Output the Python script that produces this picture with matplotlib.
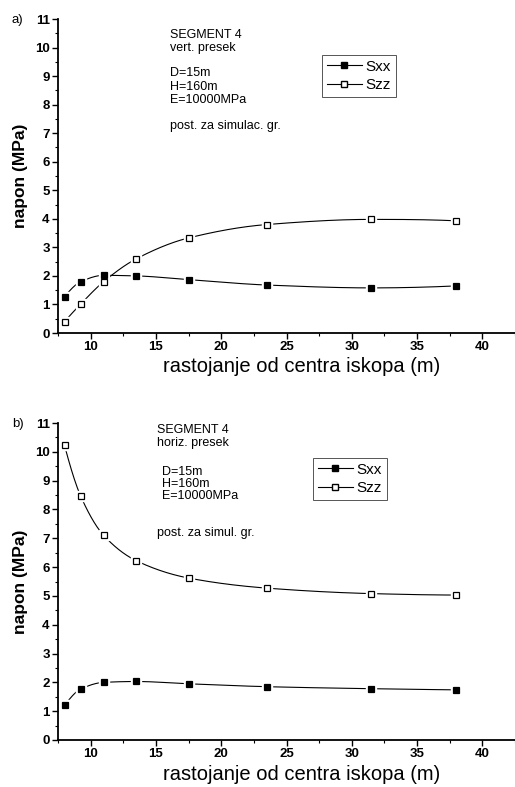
import numpy as np
import matplotlib
matplotlib.use("Agg")
import matplotlib.pyplot as plt
from matplotlib.ticker import MultipleLocator
from matplotlib.lines import Line2D

plt.rcParams['font.family'] = ['Liberation Sans', 'DejaVu Sans']

# ---- data ----
x_dist = [8.0, 9.25, 11.0, 13.5, 17.5, 23.5, 31.5, 38.0]

a_sxx = [1.27, 1.80, 2.02, 2.00, 1.87, 1.68, 1.58, 1.65]
a_szz = [0.40, 1.02, 1.80, 2.60, 3.33, 3.80, 3.98, 3.93]

b_sxx = [1.20, 1.77, 2.00, 2.03, 1.95, 1.85, 1.78, 1.74]
b_szz = [10.22, 8.45, 7.10, 6.22, 5.62, 5.27, 5.08, 5.03]

series_names = ["Sxx", "Szz"]
panel_labels = ["a)", "b)"]
a_notes = ["SEGMENT 4", "vert. presek", "D=15m", "H=160m", "E=10000MPa", "post. za simulac. gr."]
b_notes = ["SEGMENT 4", "horiz. presek", "D=15m", "H=160m", "E=10000MPa", "post. za simul. gr."]
xlabel = "rastojanje od centra iskopa (m)"
ylabel = "napon (MPa)"


def pchip(x, y, xs):
    """Monotone cubic curve through the data points (drawing only)."""
    x = np.asarray(x, float); y = np.asarray(y, float)
    h = np.diff(x); d = np.diff(y) / h
    n = len(x); m = np.zeros(n)
    for k in range(1, n - 1):
        if d[k - 1] * d[k] > 0:
            w1 = 2 * h[k] + h[k - 1]; w2 = h[k] + 2 * h[k - 1]
            m[k] = (w1 + w2) / (w1 / d[k - 1] + w2 / d[k])
    m[0] = ((2 * h[0] + h[1]) * d[0] - h[0] * d[1]) / (h[0] + h[1])
    if np.sign(m[0]) != np.sign(d[0]): m[0] = 0
    m[-1] = ((2 * h[-1] + h[-2]) * d[-1] - h[-1] * d[-2]) / (h[-1] + h[-2])
    if np.sign(m[-1]) != np.sign(d[-1]): m[-1] = 0
    idx = np.clip(np.searchsorted(x, xs) - 1, 0, n - 2)
    t = (xs - x[idx]) / h[idx]
    h00 = 2 * t**3 - 3 * t**2 + 1; h10 = t**3 - 2 * t**2 + t
    h01 = -2 * t**3 + 3 * t**2; h11 = t**3 - t**2
    return h00 * y[idx] + h10 * h[idx] * m[idx] + h01 * y[idx + 1] + h11 * h[idx] * m[idx + 1]


W, H = 515, 787
fig = plt.figure(figsize=(W / 100, H / 100), dpi=100)

def px_axes(left, top, right, bottom):
    return fig.add_axes([left / W, 1 - bottom / H, (right - left) / W, (bottom - top) / H])

axes_specs = [
    (px_axes(58, 19, 515, 333), (19, 333), a_sxx, a_szz, a_notes, (170, 35), (322, 55),
     [0, 13, 38, 52, 65, 91], [0, 0, 0, 0, 0, 0]),
    (px_axes(58, 423, 515, 740), (423, 740), b_sxx, b_szz, b_notes, (157, 430), (313, 458),
     [0, 13, 42, 54, 66, 103], [0, 0, 5, 5, 5, 0]),
]

for i, (ax, (atop, abot), sxx, szz, notes, (tx, ty), (lx, ly), ys, xo) in enumerate(axes_specs):
    xs = np.linspace(x_dist[0], x_dist[-1], 400)
    for vals, face in ((sxx, 'black'), (szz, 'white')):
        ax.plot(xs, pchip(x_dist, vals, xs), color='black', lw=0.8, zorder=2)
        ax.plot(x_dist, vals, ls='none', marker='s', ms=7.8, mfc='white', mec='white', zorder=3)
        ax.plot(x_dist, vals, ls='none', marker='s', ms=4.8, mfc=face, mec='black', mew=0.9, zorder=4)

    ax.set_xlim(7.5, 42.5)
    ax.set_ylim(0, 11)
    ax.set_xticks([10, 15, 20, 25, 30, 35, 40])
    ax.xaxis.set_minor_locator(MultipleLocator(2.5))
    ax.yaxis.set_major_locator(MultipleLocator(1))
    ax.yaxis.set_minor_locator(MultipleLocator(0.5))
    for s in ('top', 'right'):
        ax.spines[s].set_visible(False)
    for s in ('left', 'bottom'):
        ax.spines[s].set_linewidth(1.3)
    ax.tick_params(which='major', direction='out', length=4, width=1.0, labelsize=9.5, pad=2)
    ax.tick_params(which='minor', direction='out', length=2.5, width=0.8)
    for lab in ax.get_xticklabels() + ax.get_yticklabels():
        lab.set_fontweight('bold')
    ax.set_xlabel(xlabel, fontsize=14.5, labelpad=3)
    ax.xaxis.label.set_position(((302 - 58) / 457, 0))
    ax.set_ylabel(ylabel, fontsize=12.5, fontweight='bold', labelpad=5)

    fig.text(12 / W, 1 - (atop + 1) / H, panel_labels[i], fontsize=9.5, va='center', ha='left')

    for k, t in enumerate(notes):
        fig.text((tx + xo[k]) / W, 1 - (ty + ys[k]) / H, t, fontsize=9, va='center', ha='left')

    handles = [Line2D([], [], color='black', lw=0.8, marker='s', ms=4.8, mfc='black', mec='black'),
               Line2D([], [], color='black', lw=0.8, marker='s', ms=4.8, mfc='white', mec='black')]
    leg = ax.legend(handles, series_names, loc='upper left',
                    bbox_to_anchor=((lx - 58) / 457, 1 - (ly - atop) / (abot - atop)),
                    fancybox=False, edgecolor='#555555', framealpha=1, fontsize=11,
                    handlelength=2.3, handletextpad=0.25, borderpad=0.3, labelspacing=0.3,
                    borderaxespad=0)
    leg.get_frame().set_linewidth(0.7)

fig.savefig("out.png", dpi=100, facecolor='white')
